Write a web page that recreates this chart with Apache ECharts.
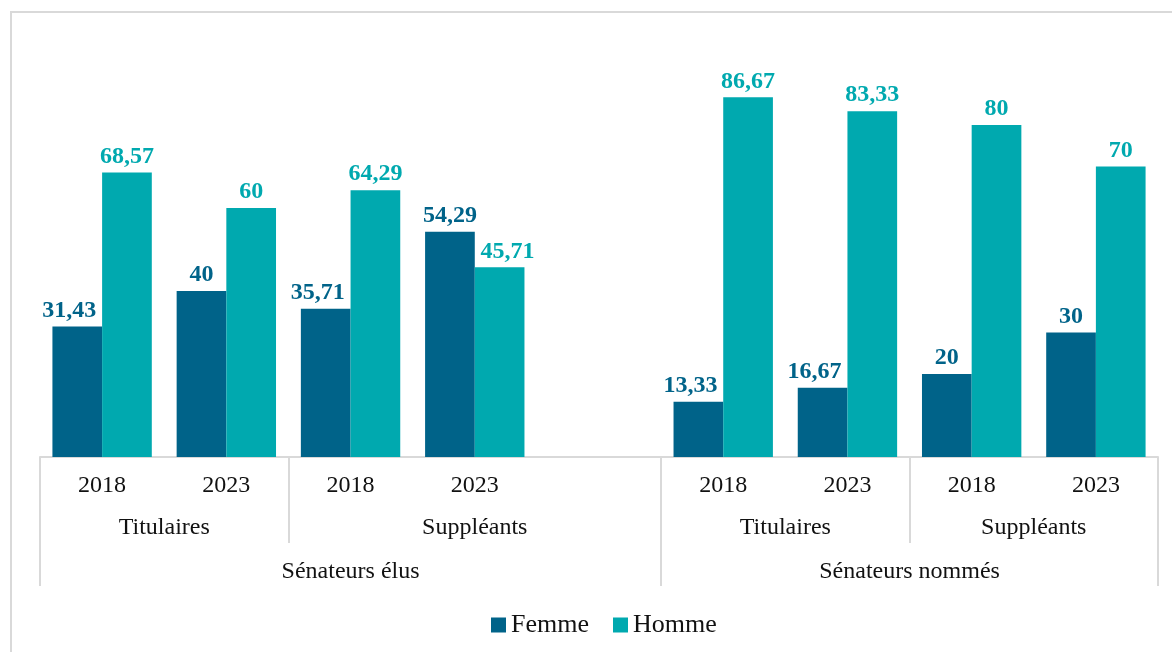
<!DOCTYPE html>
<html lang="fr">
<head>
<meta charset="utf-8">
<title>Sénateurs élus et nommés par sexe</title>
<script src="https://cdn.jsdelivr.net/npm/echarts@6/dist/echarts.min.js"></script>
<style>
  html, body { margin: 0; padding: 0; background: #ffffff; overflow: hidden; }
  #frame {
    position: absolute; left: 10px; top: 11px; width: 1200px; height: 700px;
    border: 2px solid #d9d9d9; box-sizing: border-box;
  }
  #chart { position: absolute; left: 0; top: 0; width: 1172px; height: 652px; }
</style>
</head>
<body>
<div id="frame"></div>
<div id="chart"></div>
<script>
// Year of each column; the blank column separates the two senator groups
const years = ['2018', '2023', '2018', '2023', '', '2018', '2023', '2018', '2023'];
const femme = [31.43, 40, 35.71, 54.29, null, 13.33, 16.67, 20, 30];
const homme = [68.57, 60, 64.29, 45.71, null, 86.67, 83.33, 80, 70];

// Second level of the category axis and how many columns each one covers
const statuts = ['Titulaires', 'Suppléants', 'Titulaires', 'Suppléants'];
const statutSpans = [2, 3, 2, 2];

// Third level of the category axis
const groupes = ['Sénateurs élus', 'Sénateurs nommés'];
const groupeSpans = [5, 4];

const seriesNames = ['Femme', 'Homme'];

const FEMME_COLOR = '#006389';
const HOMME_COLOR = '#00a9af';
const GRID_LINE = '#d9d9d9';
const SERIF = '"Liberation Serif", "Times New Roman", serif';

// Build a half-step grid of slots (one per column boundary and column centre)
// so a group label sits in the middle of its span and ticks sit on boundaries.
function buildLevel(names, spans) {
  const slots = years.length * 2 + 1;
  const labels = new Array(slots).fill('');
  const ticks = new Set();
  let start = 0;
  names.forEach((name, i) => {
    const end = start + spans[i];
    labels[start + end] = name;       // centre of span in half-steps
    ticks.add(start * 2);
    ticks.add(end * 2);
    start = end;
  });
  return { labels, ticks };
}

const level2 = buildLevel(statuts, statutSpans);
const level3 = buildLevel(groupes, groupeSpans);

const fmt = v => (v == null ? '' : String(v).replace('.', ','));

// Wide value labels are nudged away from a taller neighbouring bar
// so the text does not run over it.
function withLabelNudge(values, others, direction) {
  return values.map((v, i) => {
    if (v == null) return v;
    const wide = fmt(v).length > 3;
    const neighbourTaller = others[i] != null && others[i] > v;
    if (wide && neighbourTaller) {
      return { value: v, label: { offset: [direction * 8, 0] } };
    }
    return v;
  });
}

const chart = echarts.init(document.getElementById('chart'), null, { renderer: 'canvas' });

const valueLabel = color => ({
  show: true, position: 'top', distance: 4,
  formatter: p => fmt(p.value),
  fontFamily: SERIF, fontSize: 24, fontWeight: 'bold', color
});

chart.setOption({
  backgroundColor: 'transparent',
  animation: false,
  grid: { left: 40, right: 14, top: 42, bottom: 195, containLabel: false },
  legend: {
    data: seriesNames,
    top: 607,
    left: 486,
    icon: 'rect',
    itemWidth: 15,
    itemHeight: 15,
    itemGap: 24,
    textStyle: { fontFamily: SERIF, fontSize: 26, color: '#111' }
  },
  xAxis: [
    {
      type: 'category',
      data: years,
      position: 'bottom',
      axisLine: { show: true, lineStyle: { color: GRID_LINE, width: 2 } },
      axisTick: { show: false },
      axisLabel: { interval: 0, margin: 17, fontFamily: SERIF, fontSize: 24, color: '#111' }
    },
    {
      type: 'category',
      data: level2.labels,
      boundaryGap: false,
      position: 'bottom',
      axisLine: { show: false },
      axisTick: {
        show: true, length: 86,
        interval: (idx) => level2.ticks.has(idx),
        lineStyle: { color: GRID_LINE, width: 2 }
      },
      axisLabel: { interval: 0, margin: 59, fontFamily: SERIF, fontSize: 24, color: '#111' },
      splitLine: { show: false }
    },
    {
      type: 'category',
      data: level3.labels,
      boundaryGap: false,
      position: 'bottom',
      axisLine: { show: false },
      axisTick: {
        show: true, length: 129,
        interval: (idx) => level3.ticks.has(idx),
        lineStyle: { color: GRID_LINE, width: 2 }
      },
      axisLabel: { interval: 0, margin: 103, fontFamily: SERIF, fontSize: 24, color: '#111' },
      splitLine: { show: false }
    }
  ],
  yAxis: {
    type: 'value',
    min: 0,
    max: 100,
    show: false,
    splitLine: { show: false }
  },
  series: [
    {
      name: seriesNames[0],
      type: 'bar',
      xAxisIndex: 0,
      data: withLabelNudge(femme, homme, -1),
      barGap: '0%',
      barCategoryGap: '20%',
      itemStyle: { color: FEMME_COLOR },
      label: valueLabel(FEMME_COLOR)
    },
    {
      name: seriesNames[1],
      type: 'bar',
      xAxisIndex: 0,
      data: withLabelNudge(homme, femme, 1),
      barGap: '0%',
      barCategoryGap: '20%',
      itemStyle: { color: HOMME_COLOR },
      label: valueLabel(HOMME_COLOR)
    }
  ]
});
</script>
</body>
</html>
